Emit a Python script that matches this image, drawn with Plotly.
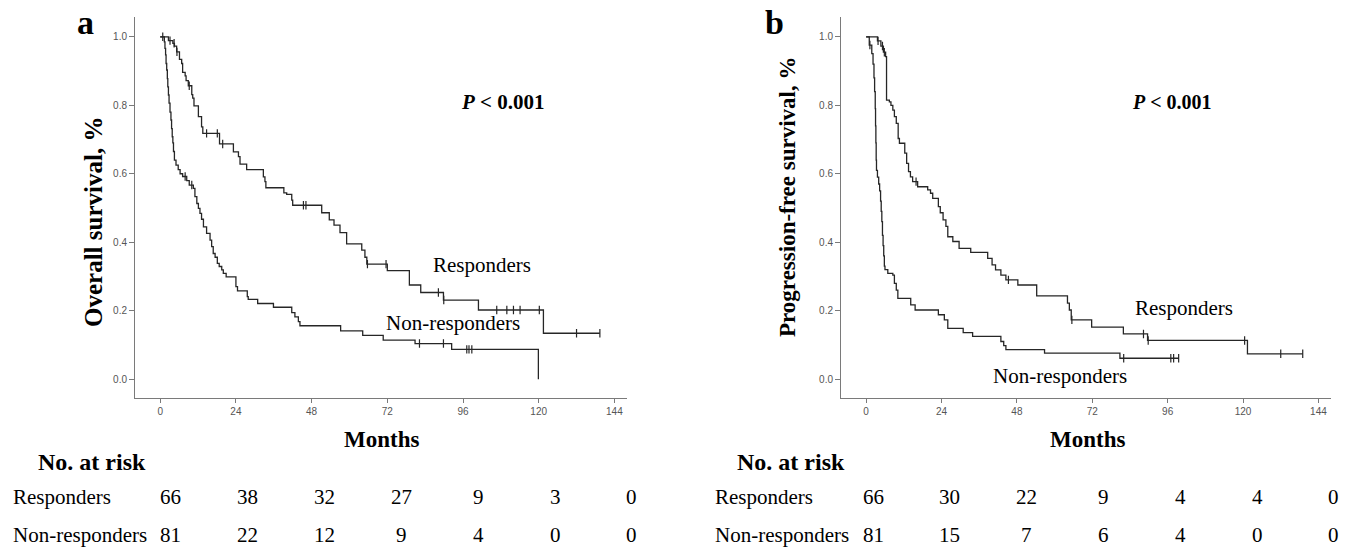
import numpy as np
import plotly.graph_objects as go

# ---------------- data ----------------
months = [0, 24, 48, 72, 96, 120, 144]

# Panel a: overall survival -- responders (step times, survival after step)
os_resp_t = [0, 2.6, 4.0, 4.5, 5.2, 6.1, 6.8, 7.1, 7.9, 8.2, 8.9, 10.0, 10.3, 10.7, 12.1,
             13.1, 13.5, 18.8, 23.2, 24.8, 25.3, 27.4, 32.7, 33.2, 33.5, 39.2, 40.1, 41.7,
             42.0, 51.2, 53.6, 55.1, 57.0, 59.1, 63.9, 64.9, 65.5, 72.0, 79.0, 82.6, 89.8,
             100.9, 121.5]
os_resp_s = [1.0, 0.989, 0.981, 0.973, 0.956, 0.934, 0.922, 0.896, 0.886, 0.872, 0.857, 0.831,
             0.821, 0.798, 0.767, 0.737, 0.718, 0.687, 0.664, 0.650, 0.628, 0.612, 0.591, 0.577,
             0.559, 0.544, 0.540, 0.523, 0.508, 0.486, 0.465, 0.450, 0.428, 0.395, 0.377, 0.356,
             0.336, 0.317, 0.275, 0.253, 0.231, 0.202, 0.134]
os_resp_end = 139.4
os_resp_cens = [0.8, 3.1, 4.4, 5.3, 9.2, 14.7, 18.1, 19.8, 45.4, 46.2, 65.7, 71.6, 88.2, 89.9,
                106.7, 109.9, 112.0, 114.1, 120.2, 132.0, 139.4]

# Panel a: overall survival -- non-responders
os_non_t = [0, 1.3, 1.5, 1.7, 1.85, 2.05, 2.25, 2.4, 2.6, 2.8, 3.1, 3.4, 3.6, 3.8, 4.0, 4.2,
            4.5, 5.0, 5.7, 6.3, 7.1, 8.4, 9.2, 10.5, 11.0, 11.6, 12.1, 12.6, 13.1, 13.7, 14.7,
            15.8, 16.3, 16.8, 17.4, 18.1, 18.7, 19.5, 20.0, 20.9, 24.0, 24.5, 27.6, 27.9, 30.9,
            35.9, 41.7, 42.7, 43.8, 44.3, 57.2, 64.2, 70.7, 80.8, 92.4, 119.9]
os_non_s = [1.0, 0.985, 0.966, 0.947, 0.922, 0.903, 0.878, 0.854, 0.830, 0.806, 0.780, 0.757,
            0.732, 0.708, 0.690, 0.665, 0.640, 0.625, 0.612, 0.600, 0.592, 0.580, 0.567, 0.557,
            0.533, 0.513, 0.499, 0.484, 0.467, 0.445, 0.426, 0.406, 0.387, 0.367, 0.356, 0.338,
            0.329, 0.319, 0.309, 0.299, 0.270, 0.258, 0.241, 0.233, 0.221, 0.210, 0.194, 0.182,
            0.168, 0.156, 0.141, 0.128, 0.114, 0.104, 0.087, 0.0]
os_non_end = 119.9
os_non_cens = [7.9, 10.0, 82.2, 89.8, 97.2, 97.9, 98.8]

# Panel b: progression-free survival -- responders
pfs_resp_t = [0, 3.6, 4.7, 5.5, 6.2, 6.5, 7.4, 7.9, 8.5, 9.0, 9.6, 10.2, 10.6, 12.3, 12.9,
              13.5, 14.1, 14.8, 16.4, 19.6, 20.5, 21.2, 23.0, 23.6, 24.5, 25.4, 26.0, 27.6,
              29.6, 33.3, 38.7, 40.1, 41.2, 42.9, 44.5, 48.3, 54.3, 64.1, 64.7, 65.3, 71.8,
              81.9, 89.6, 121.4]
pfs_resp_s = [1.0, 0.988, 0.973, 0.955, 0.942, 0.815, 0.810, 0.800, 0.786, 0.767, 0.747, 0.703,
              0.689, 0.660, 0.630, 0.606, 0.591, 0.577, 0.562, 0.553, 0.543, 0.528, 0.504, 0.486,
              0.465, 0.446, 0.416, 0.402, 0.382, 0.370, 0.353, 0.334, 0.319, 0.304, 0.290, 0.275,
              0.243, 0.222, 0.202, 0.173, 0.152, 0.132, 0.113, 0.074]
pfs_resp_end = 139.0
pfs_resp_cens = [3.8, 5.2, 5.8, 15.9, 45.3, 65.5, 88.3, 89.8, 120.5, 132.0, 139.0]

# Panel b: progression-free survival -- non-responders
pfs_non_t = [0, 1.0, 1.8, 2.2, 2.5, 2.7, 2.9, 3.0, 3.1, 3.2, 3.3, 3.6, 4.0, 4.3, 4.6, 4.8, 5.0,
             5.2, 5.4, 5.6, 5.8, 6.0, 6.9, 8.5, 9.0, 9.6, 10.1, 14.2, 15.6, 23.0, 24.9, 26.0,
             30.9, 33.9, 42.9, 43.8, 44.5, 56.8, 80.8]
pfs_non_s = [1.0, 0.976, 0.951, 0.920, 0.880, 0.840, 0.790, 0.740, 0.690, 0.640, 0.610, 0.590,
             0.570, 0.550, 0.520, 0.490, 0.460, 0.420, 0.390, 0.360, 0.330, 0.320, 0.309, 0.304,
             0.280, 0.260, 0.236, 0.217, 0.202, 0.188, 0.173, 0.148, 0.136, 0.125, 0.110, 0.098,
             0.086, 0.076, 0.061]
pfs_non_end = 99.6
pfs_non_cens = [1.2, 82.0, 97.0, 97.9, 99.5]

# numbers at risk
risk_a_resp = [66, 38, 32, 27, 9, 3, 0]
risk_a_non = [81, 22, 12, 9, 4, 0, 0]
risk_b_resp = [66, 30, 22, 9, 4, 4, 0]
risk_b_non = [81, 15, 7, 6, 4, 0, 0]

# ---------------- layout helpers ----------------
W, H = 1353, 548
def PX(x):
    return x / W
def PY(y):
    return 1 - y / H

LINE = "#262626"
AXC = "#7a7a7a"
SERIF = "Liberation Serif"
SANS = "Liberation Sans"


def step_xy(t, s, end):
    return list(t) + [end], list(s) + [s[-1]]


def cens_y(t, s, ct):
    t = np.asarray(t)
    s = np.asarray(s)
    idx = np.searchsorted(t, np.asarray(ct), side="right") - 1
    return s[idx].tolist()


fig = go.Figure()

curves = [
    (os_resp_t, os_resp_s, os_resp_end, os_resp_cens, "x", "y"),
    (os_non_t, os_non_s, os_non_end, os_non_cens, "x", "y"),
    (pfs_resp_t, pfs_resp_s, pfs_resp_end, pfs_resp_cens, "x2", "y2"),
    (pfs_non_t, pfs_non_s, pfs_non_end, pfs_non_cens, "x2", "y2"),
]
for t, s, end, ct, xa, ya in curves:
    xs, ys = step_xy(t, s, end)
    fig.add_trace(go.Scatter(x=xs, y=ys, mode="lines", line=dict(color=LINE, width=1.3, shape="hv"),
                             xaxis=xa, yaxis=ya, showlegend=False, hoverinfo="skip"))
    fig.add_trace(go.Scatter(x=ct, y=cens_y(t, s, ct), mode="markers",
                             marker=dict(symbol="line-ns", size=6, line=dict(color=LINE, width=1.2)),
                             xaxis=xa, yaxis=ya, showlegend=False, hoverinfo="skip"))

xcommon = dict(range=[-8, 148], tickvals=months, ticks="outside", ticklen=4, tickcolor=AXC,
               showline=True, linecolor=AXC, linewidth=1, showgrid=False, zeroline=False,
               tickfont=dict(family=SANS, size=10, color="#555"))
ycommon = dict(range=[-0.056, 1.057], tickvals=[0, 0.2, 0.4, 0.6, 0.8, 1.0],
               ticktext=["0.0", "0.2", "0.4", "0.6", "0.8", "1.0"], ticks="outside", ticklen=5,
               tickcolor=AXC, showline=True, linecolor=AXC, linewidth=1, showgrid=False,
               zeroline=False, tickfont=dict(family=SANS, size=10, color="#555"),
               domain=[PY(398.3), PY(17.3)])

fig.update_layout(
    width=W, height=H, margin=dict(l=0, r=0, t=0, b=0),
    paper_bgcolor="white", plot_bgcolor="white",
    xaxis=dict(xcommon, domain=[PX(135), PX(627)], anchor="y"),
    yaxis=dict(ycommon, anchor="x"),
    xaxis2=dict(xcommon, domain=[PX(841), PX(1331)], anchor="y2"),
    yaxis2=dict(ycommon, anchor="x2"),
)

ann = []
def text(x, y, s, size, bold=False, angle=0, xanchor="center"):
    if bold:
        s = "<b>" + s + "</b>"
    ann.append(dict(x=PX(x), y=PY(y), xref="paper", yref="paper", text=s, showarrow=False,
                    xanchor=xanchor, yanchor="middle", textangle=angle,
                    font=dict(family=SERIF, size=size, color="black")))

# panel letters
text(85, 22, "a", 34, bold=True)
text(774, 22, "b", 34, bold=True)
# y titles
text(93, 222, "Overall survival, %", 25, bold=True, angle=-90)
text(787, 197, "Progression-free survival, %", 23, bold=True, angle=-90)
# p-values
text(503, 102, "<i>P</i> &lt; 0.001", 21, bold=True)
text(1172, 102, "<i>P</i> &lt; 0.001", 20, bold=True)
# curve labels
text(482, 265, "Responders", 21)
text(453, 323, "Non-responders", 21)
text(1184, 308, "Responders", 21)
text(1060, 376, "Non-responders", 21)
# x titles
text(381, 439, "Months", 23, bold=True)
text(1087, 439, "Months", 23, bold=True)
# risk tables
for x0, xnum0, rr, rn, cx in [(11, 171, risk_a_resp, risk_a_non, 92),
                              (713, 873, risk_b_resp, risk_b_non, 791)]:
    text(cx, 462, "No. at risk", 24, bold=True)
    text(x0, 497, "Responders", 21, xanchor="left")
    text(x0, 535, "Non-responders", 21, xanchor="left")
    for i in range(len(months)):
        xx = xnum0 + 76.8 * i
        text(xx, 497, str(rr[i]), 21)
        text(xx, 535, str(rn[i]), 21)

fig.update_layout(annotations=ann)
fig.write_html("out.html", config={"displayModeBar": False},
               post_script="document.body.style.margin='0';document.body.style.overflow='hidden';")
